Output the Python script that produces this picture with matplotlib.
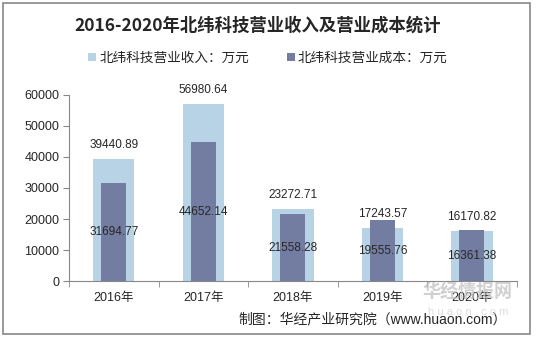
import numpy as np
import matplotlib.pyplot as plt
from matplotlib.patches import Rectangle

plt.rcParams['font.family'] = ['Liberation Sans', 'Noto Sans CJK SC', 'DejaVu Sans']

years = ['2016年', '2017年', '2018年', '2019年', '2020年']
revenue = [39440.89, 56980.64, 23272.71, 17243.57, 16170.82]
cost = [31694.77, 44652.14, 21558.28, 19555.76, 16361.38]
yticks = [0, 10000, 20000, 30000, 40000, 50000, 60000]

c_rev = '#b9d3e6'
c_cost = '#737ca1'
txt = '#262626'

fig = plt.figure(figsize=(5.36, 3.39), dpi=100)
ax = fig.add_axes([0.129, 0.170, 0.835, 0.551])

x = np.arange(len(years))
ax.bar(x, revenue, width=0.46, color=c_rev, label='北纬科技营业收入：万元', zorder=2)
ax.bar(x, cost, width=0.28, color=c_cost, label='北纬科技营业成本：万元', zorder=3)

for i in range(len(years)):
    ax.annotate('%.2f' % revenue[i], (x[i], revenue[i]), xytext=(0, 10),
                textcoords='offset points', ha='center', va='center',
                fontsize=8.5, color=txt, zorder=5)
    ax.text(x[i], cost[i] / 2, '%.2f' % cost[i], ha='center', va='center',
            fontsize=8.5, color=txt, zorder=5)

ax.set_xlim(-0.5, len(years) - 0.5)
ax.set_ylim(0, 60000)
ax.set_yticks(yticks)
ax.set_yticklabels([str(v) for v in yticks], fontsize=9, color=txt)
ax.set_xticks(x)
ax.set_xticklabels(years, fontsize=9, color=txt)
ax.tick_params(axis='x', length=0, pad=8)
ax.set_xticks(np.arange(-0.5, len(years)), minor=True)
ax.tick_params(axis='x', which='minor', length=4, color='#888888', direction='out')
ax.tick_params(axis='y', length=4, color='#888888', direction='out', pad=3)
for s in ['top', 'right']:
    ax.spines[s].set_visible(False)
ax.spines['left'].set_color('#888888')
ax.spines['bottom'].set_color('#888888')

fig.text(0.48, 0.925, '2016-2020年北纬科技营业收入及营业成本统计', ha='center', va='center',
         fontsize=12.5, fontweight='bold', color=txt,
         family=['Noto Sans CJK SC', 'DejaVu Sans'])

leg = fig.legend(loc='center', bbox_to_anchor=(0.5, 0.829), ncol=2, frameon=False,
                 fontsize=9.8, handlelength=0.6, handleheight=0.6, handletextpad=0.2,
                 columnspacing=2.8, prop={'family': ['Noto Sans CJK SC', 'DejaVu Sans'], 'size': 9.8})
for t in leg.get_texts():
    t.set_color(txt)

fig.text(0.945, 0.057, '制图：华经产业研究院（www.huaon.com）', ha='right', va='center',
         fontsize=10, color=txt)

# watermark
fig.text(0.873, 0.138, '华经情报网', ha='center', va='center', fontsize=13,
         fontweight='bold', color='#bdbdbd', alpha=0.7,
         family=['Noto Sans CJK SC', 'DejaVu Sans'], zorder=10)
fig.text(0.873, 0.08, 'h u a o n . c o m', ha='center', va='center', fontsize=8,
         color='#cfcfcf', alpha=0.7, zorder=10)

fig.patches.append(Rectangle((0.006, 0.015), 0.983, 0.977, transform=fig.transFigure,
                             fill=False, edgecolor='#888888', linewidth=1.2))

fig.savefig('out.png', dpi=100)
